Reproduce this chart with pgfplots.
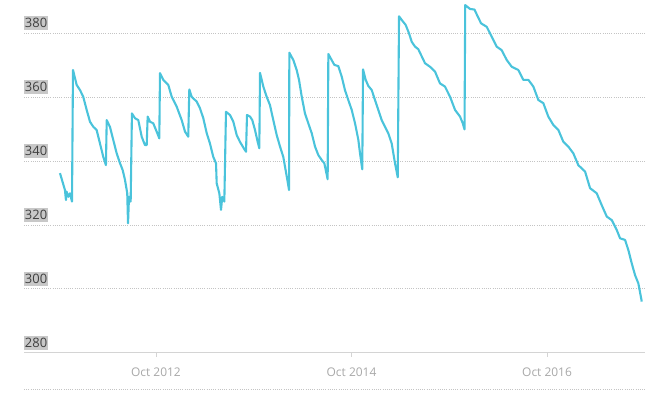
\documentclass[border=0pt]{standalone}
\usepackage{pgfplots}
\pgfplotsset{compat=1.18}
\usepackage{pgfplotstable}
\usepackage{fontspec}
\setmainfont{Open Sans}
\definecolor{linec}{HTML}{4AC3DB}
\definecolor{gridc}{HTML}{C4C4C4}
\definecolor{axisc}{HTML}{D4D4D4}
\definecolor{labbg}{HTML}{C8C8C8}
\definecolor{labtxt}{HTML}{404040}
\definecolor{xlab}{HTML}{A8A8A8}
\pgfplotstableread{
t v
2011.768 336.2
2011.819 330.9
2011.829 327.8
2011.836 330.4
2011.853 328.8
2011.870 329.9
2011.891 327.3
2011.901 368.5
2011.939 363.8
2011.973 362.2
2012.006 360.1
2012.041 356.0
2012.075 352.3
2012.109 350.7
2012.143 349.7
2012.177 345.5
2012.211 341.3
2012.238 338.7
2012.246 352.8
2012.279 350.7
2012.313 346.6
2012.348 342.4
2012.382 339.3
2012.409 337.2
2012.433 334.1
2012.456 329.9
2012.464 320.5
2012.474 328.8
2012.491 327.3
2012.504 354.9
2012.535 353.4
2012.569 352.8
2012.604 347.6
2012.637 345.0
2012.655 345.0
2012.665 353.9
2012.689 352.3
2012.722 351.8
2012.757 349.2
2012.784 347.1
2012.791 367.5
2012.825 365.4
2012.876 363.8
2012.911 360.1
2012.962 357.0
2013.013 352.8
2013.047 349.2
2013.080 347.6
2013.091 362.4
2013.115 360.1
2013.166 358.6
2013.200 356.5
2013.234 353.4
2013.269 348.7
2013.302 345.5
2013.336 341.3
2013.364 339.3
2013.371 333.0
2013.398 329.9
2013.415 324.7
2013.428 328.8
2013.449 327.3
2013.466 355.4
2013.507 354.4
2013.541 352.3
2013.576 348.1
2013.609 346.0
2013.660 343.4
2013.671 342.9
2013.681 354.4
2013.712 353.9
2013.735 352.8
2013.763 349.7
2013.790 346.0
2013.807 344.0
2013.814 367.6
2013.848 363.3
2013.882 360.1
2013.916 357.5
2013.950 352.8
2013.985 348.1
2014.019 344.5
2014.052 341.3
2014.070 338.2
2014.097 333.5
2014.111 330.9
2014.114 373.9
2014.155 371.6
2014.189 368.5
2014.213 365.4
2014.241 360.1
2014.274 354.9
2014.308 351.8
2014.343 348.7
2014.377 344.5
2014.410 341.9
2014.445 340.3
2014.472 339.3
2014.506 334.3
2014.513 373.5
2014.547 371.6
2014.574 370.1
2014.615 369.7
2014.650 366.4
2014.683 362.2
2014.717 359.1
2014.752 356.0
2014.786 351.8
2014.820 346.6
2014.837 342.4
2014.860 337.4
2014.868 368.7
2014.895 365.4
2014.922 363.5
2014.957 362.2
2014.990 359.1
2015.024 356.0
2015.059 352.8
2015.093 350.7
2015.126 348.7
2015.161 345.5
2015.195 339.3
2015.223 334.9
2015.236 385.3
2015.270 383.9
2015.304 382.6
2015.338 380.0
2015.366 377.3
2015.400 375.8
2015.433 375.0
2015.502 370.6
2015.553 369.5
2015.604 368.0
2015.655 364.3
2015.706 363.3
2015.758 360.1
2015.809 356.0
2015.860 353.9
2015.888 351.8
2015.906 349.9
2015.913 388.8
2015.962 387.6
2016.008 387.4
2016.034 385.7
2016.075 383.1
2016.133 382.0
2016.184 378.9
2016.235 375.8
2016.286 374.7
2016.338 371.6
2016.389 369.5
2016.456 368.5
2016.507 365.4
2016.559 365.4
2016.610 363.3
2016.661 359.1
2016.712 358.1
2016.763 353.9
2016.814 351.3
2016.866 349.7
2016.917 346.0
2016.968 344.5
2017.019 342.4
2017.070 338.7
2017.139 336.7
2017.190 331.5
2017.258 329.9
2017.309 326.2
2017.361 322.6
2017.412 321.5
2017.463 318.4
2017.497 315.8
2017.548 315.3
2017.582 312.1
2017.616 308.0
2017.650 304.3
2017.684 301.7
2017.719 296.0
}\datatable
\begin{document}
\begin{tikzpicture}
\path (0,0) rectangle (666bp,398bp);
\begin{axis}[
  at={(24bp,0bp)}, anchor=south west,
  scale only axis, width=621bp, height=398bp,
  xmin=2011.400, xmax=2017.752, ymin=265.82, ymax=390.40,
  axis line style={draw=none}, tick style={draw=none},
  xtick=\empty, ytick=\empty, clip=false,
]
\foreach \yy in {300,320,340,360,380} {
  \edef\tmp{\noexpand\draw[gridc, line width=0.8bp, dash pattern=on 0.8bp off 1.4bp] (axis cs:2011.400,\yy) -- (axis cs:2017.752,\yy);}\tmp
}
\draw[gridc, line width=0.8bp, dash pattern=on 0.8bp off 1.4bp] (axis cs:2011.400,268.64) -- (axis cs:2017.752,268.64);
\draw[axisc, line width=1bp] (axis cs:2011.400,280) -- (axis cs:2017.752,280);
\foreach \xx in {2012.75,2014.75,2016.75} {
  \edef\tmp{\noexpand\draw[axisc, line width=0.8bp] (axis cs:\xx,280) -- (axis cs:\xx,278.6);}\tmp
}
\node[font=\fontsize{12}{14}\selectfont, text=xlab] at (axis cs:2012.75,273.9) {Oct 2012};
\node[font=\fontsize{12}{14}\selectfont, text=xlab] at (axis cs:2014.75,273.9) {Oct 2014};
\node[font=\fontsize{12}{14}\selectfont, text=xlab] at (axis cs:2016.75,273.9) {Oct 2016};
\foreach \yy in {280,300,320,340,360,380} {
  \edef\tmp{\noexpand\node[anchor=south west, fill=labbg, text=labtxt, inner xsep=0.8bp, inner ysep=2.3bp, font=\noexpand\fontsize{13}{15}\noexpand\selectfont] at (axis cs:2011.400,\yy.9) {\yy};}\tmp
}
\addplot[linec, line width=2.1bp, line join=round] table[x=t, y=v] {\datatable};
\end{axis}
\end{tikzpicture}
\end{document}
